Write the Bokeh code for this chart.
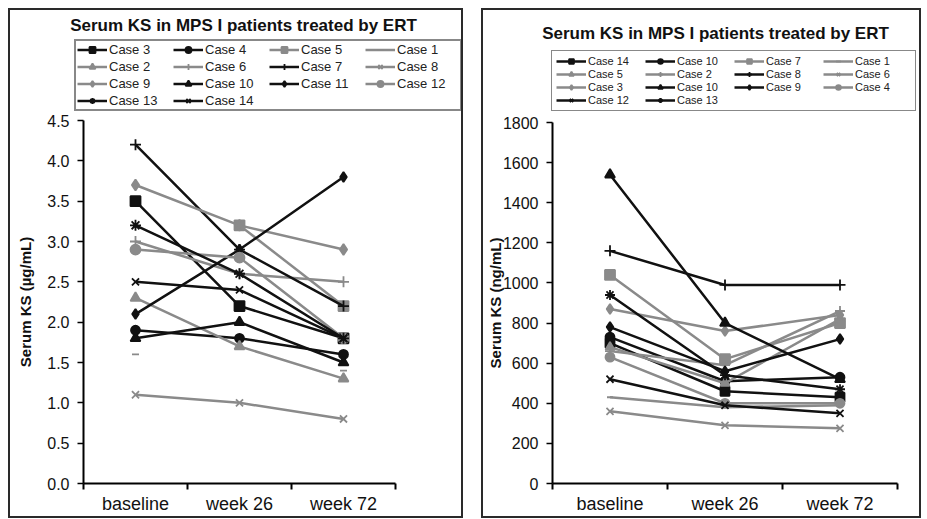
from bokeh.plotting import figure
from bokeh.layouts import row, column
from bokeh.models import (Legend, LegendItem, Label, FixedTicker, Range1d, Spacer,
                          ColumnDataSource, PrintfTickFormatter)
from bokeh.embed import file_html
from bokeh.resources import INLINE

FONT = "Liberation Sans"
BLACK = "#111111"
GRAY = "#8a8a8a"
NAN = float("nan")

categories = ["baseline", "week 26", "week 72"]
title_text = "Serum KS in MPS I patients treated by ERT"

# ---------------- left panel data (ug/mL) ----------------
left_yticks = [0.0, 0.5, 1.0, 1.5, 2.0, 2.5, 3.0, 3.5, 4.0, 4.5]
left_names = ["Case 3", "Case 4", "Case 5", "Case 1", "Case 2", "Case 6", "Case 7",
              "Case 8", "Case 9", "Case 10", "Case 11", "Case 12", "Case 13", "Case 14"]
L_case3 = [3.5, 2.2, 1.8]
L_case4 = [1.9, 1.8, 1.6]
L_case5 = [NAN, 3.2, 2.2]
L_case1 = [1.6, NAN, 1.4]
L_case2 = [2.3, 1.7, 1.3]
L_case6 = [3.0, 2.6, 2.5]
L_case7 = [4.2, 2.9, 2.2]
L_case8 = [1.1, 1.0, 0.8]
L_case9 = [3.7, 3.2, 2.9]
L_case10 = [1.8, 2.0, 1.5]
L_case11 = [2.1, 2.9, 3.8]
L_case12 = [2.9, 2.8, 1.8]
L_case13 = [3.2, 2.6, 1.8]
L_case14 = [2.5, 2.4, 1.8]
left_values = [L_case3, L_case4, L_case5, L_case1, L_case2, L_case6, L_case7,
               L_case8, L_case9, L_case10, L_case11, L_case12, L_case13, L_case14]
left_styles = [
    (BLACK, "square", 10), (BLACK, "circle", 9), (GRAY, "square", 10), (GRAY, "dash", 7),
    (GRAY, "triangle", 10), (GRAY, "cross", 11), (BLACK, "cross", 11), (GRAY, "x", 10),
    (GRAY, "diamond", 11), (BLACK, "triangle", 10), (BLACK, "diamond", 10), (GRAY, "circle", 10),
    (BLACK, "asterisk", 11), (BLACK, "x", 10),
]

# ---------------- right panel data (ng/mL) ----------------
right_yticks = [0, 200, 400, 600, 800, 1000, 1200, 1400, 1600, 1800]
right_names = ["Case 14", "Case 10", "Case 7", "Case 1", "Case 5", "Case 2", "Case 8",
               "Case 6", "Case 3", "Case 10", "Case 9", "Case 4", "Case 12", "Case 13"]
R_case14 = [700, 460, 430]
R_case10a = [730, 510, 530]
R_case7 = [1040, 620, 800]
R_case1 = [430, 380, 390]
R_case5 = [680, 500, 820]
R_case2 = [660, 590, 860]
R_case8 = [1160, 990, 990]
R_case6 = [360, 290, 275]
R_case3 = [870, 760, 840]
R_case10b = [1540, 800, 520]
R_case9 = [780, 560, 720]
R_case4 = [630, 400, 400]
R_case12 = [520, 390, 350]
R_case13 = [940, 540, 470]
right_values = [R_case14, R_case10a, R_case7, R_case1, R_case5, R_case2, R_case8,
                R_case6, R_case3, R_case10b, R_case9, R_case4, R_case12, R_case13]
right_styles = [
    (BLACK, "square", 9), (BLACK, "circle", 9), (GRAY, "square", 10), (GRAY, "dash", 6),
    (GRAY, "triangle", 9), (GRAY, "cross", 10), (BLACK, "cross", 11), (GRAY, "x", 10),
    (GRAY, "diamond", 10), (BLACK, "triangle", 10), (BLACK, "diamond", 10), (GRAY, "circle", 9),
    (BLACK, "x", 10), (BLACK, "asterisk", 10),
]

xs = [i + 0.5 for i in range(len(categories))]

HEADER_H = 102
CHART_H = 404


def add_series(fig, src, color, marker, size, visible=True):
    ln = fig.line("x", "y", source=src, line_color=color, line_width=2.5, visible=visible)
    sc = fig.scatter("x", "y", source=src, marker=marker, size=size, visible=visible,
                     fill_color=color, line_color=color, line_width=1.8)
    return ln, sc


def make_header(width, names, sources, styles, title_xy, legend_loc, legend_font,
                legend_label_w, legend_item_h, legend_spacing, legend_padding,
                legend_border_w):
    h = figure(width=width, height=HEADER_H, output_backend="svg", toolbar_location=None,
               x_range=Range1d(0, width), y_range=Range1d(0, HEADER_H),
               x_axis_location=None, y_axis_location=None, frame_align=False,
               min_border_left=0, min_border_right=0, min_border_top=0, min_border_bottom=0,
               outline_line_color=None, background_fill_color="white",
               border_fill_color="white")
    h.xgrid.visible = False
    h.ygrid.visible = False
    items = []
    for name, src, (color, marker, size) in zip(names, sources, styles):
        # hidden copies of the series, used only to draw the legend glyphs
        ln, sc = add_series(h, src, color, marker, size, visible=False)
        items.append(LegendItem(label=name, renderers=[ln, sc]))
    leg = Legend(items=items, orientation="horizontal", ncols=4, location=legend_loc,
                 label_text_font=FONT, label_text_font_size=legend_font,
                 label_text_color="#222222",
                 glyph_width=30, glyph_height=legend_item_h, label_standoff=2,
                 label_width=legend_label_w, label_height=legend_item_h,
                 spacing=legend_spacing, padding=legend_padding, margin=0,
                 inactive_fill_alpha=0.0,
                 border_line_color="#111111", border_line_width=legend_border_w,
                 background_fill_color="white", background_fill_alpha=1.0)
    h.add_layout(leg, "center")
    h.add_layout(Label(x=title_xy[0], y=title_xy[1], text=title_text, text_font=FONT,
                       text_font_size="17px", text_font_style="bold",
                       text_align="center", text_baseline="middle",
                       text_color="#111111"))
    return h


def make_chart(width, mb, ymax, yticks, yfmt, ylabel, sources, styles, label_standoff):
    p = figure(width=width, height=CHART_H, output_backend="svg", toolbar_location=None,
               x_range=Range1d(0, len(categories)), y_range=Range1d(0, ymax),
               min_border_left=mb[0], min_border_right=mb[1],
               min_border_top=mb[2], min_border_bottom=mb[3], frame_align=False,
               background_fill_color="white", border_fill_color="white",
               outline_line_color=None)
    p.xgrid.visible = False
    p.ygrid.visible = False

    for src, (color, marker, size) in zip(sources, styles):
        add_series(p, src, color, marker, size)

    # x axis: labels at category centres, ticks at category boundaries
    xa = p.xaxis[0]
    xa.ticker = FixedTicker(ticks=xs, minor_ticks=list(range(len(categories) + 1)))
    xa.major_label_overrides = {x: c for x, c in zip(xs, categories)}
    xa.major_tick_line_color = None
    xa.major_tick_out = 0
    xa.major_tick_in = 0
    xa.minor_tick_in = 0
    xa.minor_tick_out = 6
    xa.minor_tick_line_color = "black"
    xa.minor_tick_line_width = 2
    xa.major_label_standoff = 4
    xa.axis_label_standoff = 0
    xa.major_label_text_font = FONT
    xa.major_label_text_font_size = "18px"
    xa.major_label_text_color = "#111111"
    xa.axis_line_width = 2
    xa.axis_line_color = "black"

    ya = p.yaxis[0]
    ya.ticker = FixedTicker(ticks=yticks)
    ya.formatter = PrintfTickFormatter(format=yfmt)
    ya.major_tick_out = 6
    ya.major_tick_in = 0
    ya.major_tick_line_width = 1.5
    ya.major_tick_line_color = "black"
    ya.minor_tick_line_color = None
    ya.major_label_standoff = 8
    ya.major_label_text_font = FONT
    ya.major_label_text_font_size = "16px"
    ya.major_label_text_color = "#111111"
    ya.axis_line_width = 2
    ya.axis_line_color = "black"
    ya.axis_label = ylabel
    ya.axis_label_text_font = FONT
    ya.axis_label_text_font_size = "15px"
    ya.axis_label_text_font_style = "bold"
    ya.axis_label_text_color = "#111111"
    ya.axis_label_standoff = label_standoff
    return p


BOX = {"border": "2px solid #2a2a2a"}

left_sources = [ColumnDataSource(dict(x=xs, y=v)) for v in left_values]
right_sources = [ColumnDataSource(dict(x=xs, y=v)) for v in right_values]

h1 = make_header(451, left_names, left_sources, left_styles, title_xy=(233, 87),
                 legend_loc=(64, 1), legend_font="13px", legend_label_w=62,
                 legend_item_h=15, legend_spacing=2, legend_padding=1, legend_border_w=2)
c1 = make_chart(451, (73, 66, 8, 31), 4.5, left_yticks, "%.1f",
                "Serum KS (µg/mL)", left_sources, left_styles, label_standoff=10)
h2 = make_header(436, right_names, right_sources, right_styles, title_xy=(232, 79),
                 legend_loc=(68, 1), legend_font="11px", legend_label_w=56,
                 legend_item_h=12, legend_spacing=1, legend_padding=4, legend_border_w=1.5)
c2 = make_chart(436, (69, 22, 10, 31), 1800, right_yticks, "%d",
                "Serum KS (ng/mL)", right_sources, right_styles, label_standoff=-4)

panel1 = column(h1, c1, styles=BOX)
panel2 = column(h2, c2, styles=BOX)
layout = column(Spacer(height=8),
                row(Spacer(width=8), panel1, Spacer(width=18), panel2))
open("out.html", "w").write(file_html(layout, INLINE))
